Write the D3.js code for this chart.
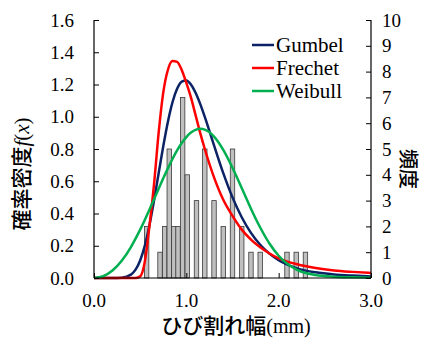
<!DOCTYPE html>
<html>
<head>
<meta charset="utf-8">
<script src="https://cdn.jsdelivr.net/npm/d3@7.9.0/dist/d3.min.js"></script>
<style>
  body { margin: 0; background: #fff; }
</style>
</head>
<body>
<svg id="chart" width="431" height="340"></svg>
<script>
// histogram: bar centres (mm) and counts
let binX = [0.57, 0.715, 0.765, 0.815, 0.865, 0.91, 0.96, 1.01, 1.11, 1.20, 1.30, 1.40, 1.50, 1.60, 1.70, 1.80, 2.09, 2.19, 2.29];
let binCount = [2, 1, 2, 5, 2, 2, 7, 4, 3, 5, 3, 2, 5, 2, 1, 1, 1, 1, 1];

// density curves
let curveX = [0, 0.1, 0.2, 0.3, 0.4, 0.45, 0.5, 0.55, 0.6, 0.65, 0.7, 0.75, 0.8, 0.85, 0.9, 0.95, 1.0, 1.05, 1.1, 1.15, 1.2, 1.3, 1.4, 1.5, 1.6, 1.7, 1.8, 1.9, 2.0, 2.2, 2.4, 2.6, 2.8, 3.0];
let gumbel = [0, 0, 0, 0.002, 0.021, 0.052, 0.109, 0.2, 0.326, 0.48, 0.649, 0.817, 0.968, 1.09, 1.173, 1.218, 1.225, 1.2, 1.149, 1.08, 0.999, 0.822, 0.65, 0.5, 0.377, 0.28, 0.206, 0.151, 0.11, 0.06, 0.035, 0.022, 0.015, 0.01];
let frechet = [0, 0, 0, 0, 0, 0, 0.01, 0.1, 0.32, 0.58, 0.9, 1.15, 1.29, 1.345, 1.34, 1.29, 1.21, 1.12, 1.01, 0.9, 0.8, 0.624, 0.485, 0.385, 0.3, 0.238, 0.19, 0.152, 0.122, 0.085, 0.062, 0.047, 0.038, 0.031];
let weibull = [0, 0.011, 0.046, 0.107, 0.192, 0.244, 0.3, 0.36, 0.423, 0.488, 0.553, 0.618, 0.68, 0.738, 0.791, 0.837, 0.874, 0.902, 0.919, 0.925, 0.92, 0.877, 0.795, 0.684, 0.558, 0.43, 0.313, 0.214, 0.138, 0.05, 0.018, 0.008, 0.004, 0.002];

let xTicks = [0, 1, 2, 3];
let yTicks = [0, 0.2, 0.4, 0.6, 0.8, 1.0, 1.2, 1.4, 1.6];
let y2Ticks = [0, 1, 2, 3, 4, 5, 6, 7, 8, 9, 10];

let series = [
  { name: 'Gumbel', values: gumbel, color: '#0b2265' },
  { name: 'Frechet', values: frechet, color: '#ff0000' },
  { name: 'Weibull', values: weibull, color: '#00b050' }
];

const SERIF = "'Liberation Serif', 'Times New Roman', serif";
const JP = "'Noto Sans CJK JP', 'Noto Sans CJK SC', sans-serif";

let plotL = 94, plotR = 371, plotT = 20, plotB = 278;
let svg = d3.select('#chart').attr('font-family', SERIF);

let x = d3.scaleLinear().domain([0, 3]).range([plotL, plotR]);
let y = d3.scaleLinear().domain([0, 1.6]).range([plotB, plotT]);
let y2 = d3.scaleLinear().domain([0, 10]).range([plotB, plotT]);

// bars
let barW = x(0.048) - x(0);
svg.append('g')
  .selectAll('rect')
  .data(binX)
  .join('rect')
  .attr('x', (d) => x(d) - barW / 2)
  .attr('y', (d, i) => y2(binCount[i]))
  .attr('width', barW)
  .attr('height', (d, i) => plotB - y2(binCount[i]))
  .attr('fill', '#c0c0c0')
  .attr('stroke', '#3a3a3a')
  .attr('stroke-width', 0.8);

// curves
let line = d3.line()
  .x((d) => x(d[0]))
  .y((d) => y(d[1]))
  .curve(d3.curveMonotoneX);

series.forEach((s) => {
  svg.append('path')
    .attr('d', line(curveX.map((v, i) => [v, s.values[i]])))
    .attr('fill', 'none')
    .attr('stroke', s.color)
    .attr('stroke-width', 2.5);
});

// axes (ticks pointing inward)
let fmt1 = d3.format('.1f');
let axLeft = svg.append('g').attr('transform', `translate(${plotL},0)`)
  .call(d3.axisRight(y).tickValues(yTicks).tickSize(5).tickFormat(''));
let axRight = svg.append('g').attr('transform', `translate(${plotR},0)`)
  .call(d3.axisLeft(y2).tickValues(y2Ticks).tickSize(5).tickFormat(''));
let axBottom = svg.append('g').attr('transform', `translate(0,${plotB})`)
  .call(d3.axisTop(x).tickValues(xTicks).tickSize(5).tickFormat(''));
[axLeft, axRight, axBottom].forEach((g) => {
  g.select('.domain').attr('stroke', '#000').attr('stroke-width', 1.2);
  g.selectAll('.tick line').attr('stroke', '#000');
});
axLeft.select('.domain').attr('d', `M0,${plotT}V${plotB}`);
axRight.select('.domain').attr('d', `M0,${plotT}V${plotB}`);
axBottom.select('.domain').attr('d', `M${plotL},0H${plotR}`);

// tick labels
svg.append('g').selectAll('text').data(yTicks).join('text')
  .attr('x', 74).attr('y', (d) => y(d) + 6.5)
  .attr('text-anchor', 'end').attr('font-size', 19)
  .text(fmt1);
svg.append('g').selectAll('text').data(y2Ticks).join('text')
  .attr('x', 382).attr('y', (d) => y2(d) + 6.5)
  .attr('font-size', 19)
  .text((d) => d);
svg.append('g').selectAll('text').data(xTicks).join('text')
  .attr('x', (d) => x(d)).attr('y', 307)
  .attr('text-anchor', 'middle').attr('font-size', 19)
  .text(fmt1);

// axis titles
let yt = svg.append('text')
  .attr('transform', `translate(29,${(plotT + plotB) / 2 + 25}) rotate(-90)`)
  .attr('text-anchor', 'middle')
  .attr('font-size', 21);
yt.append('tspan').attr('font-family', JP).attr('font-weight', 500).text('確率密度');
yt.append('tspan').attr('font-style', 'italic').text('f');
yt.append('tspan').text('(');
yt.append('tspan').attr('font-style', 'italic').text('x');
yt.append('tspan').text(')');

svg.append('text')
  .attr('transform', `translate(401,${(plotT + plotB) / 2 + 20}) rotate(90)`)
  .attr('text-anchor', 'middle')
  .attr('font-size', 20)
  .attr('font-family', JP)
  .attr('font-weight', 500)
  .text('頻度');

let xt = svg.append('text')
  .attr('x', 236).attr('y', 333)
  .attr('text-anchor', 'middle');
xt.append('tspan').attr('font-family', JP).attr('font-weight', 500).attr('font-size', 21).text('ひび割れ幅');
xt.append('tspan').attr('font-size', 20).text('(mm)');

// legend
let legend = svg.append('g');
series.forEach((s, i) => {
  let ly = 45 + i * 23;
  legend.append('line')
    .attr('x1', 252).attr('x2', 274)
    .attr('y1', ly).attr('y2', ly)
    .attr('stroke', s.color).attr('stroke-width', 2.5);
  legend.append('text')
    .attr('x', 276).attr('y', ly + 7)
    .attr('font-size', 21)
    .text(s.name);
});
</script>
</body>
</html>
